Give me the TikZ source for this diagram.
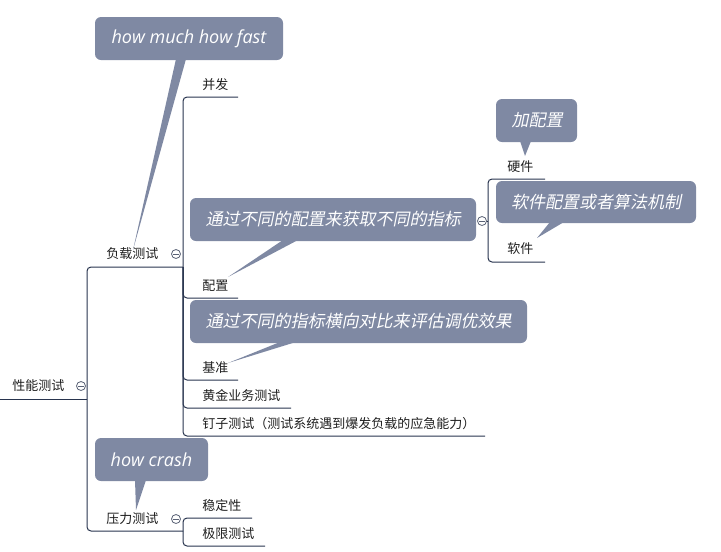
\documentclass[tikz,border=0pt]{standalone}
\usepackage{fontspec}
\setmainfont{Noto Sans CJK SC}
\newfontfamily\cjkit[FakeSlant=0.2]{Noto Sans CJK SC}
\newfontfamily\enfont{Open Sans}
\definecolor{callout}{RGB}{127,137,163}
\definecolor{linec}{RGB}{40,52,78}
\definecolor{circc}{RGB}{90,98,118}
\definecolor{txtc}{RGB}{30,30,30}
\tikzset{
  lbl/.style={anchor=west, inner sep=0pt, text=txtc, font=\fontsize{9.75pt}{11pt}\selectfont},
  conn/.style={draw=linec, line width=0.75pt, rounded corners=3pt},
  callbox/.style={fill=callout, rounded corners=4.5pt},
  callptr/.style={fill=callout},
  calltxt/.style={text=white, inner sep=0pt},
  cnfont/.style={font=\cjkit\fontsize{12.75pt}{14pt}\selectfont},
  enfontst/.style={font=\enfont\itshape\fontsize{13.5pt}{15pt}\selectfont},
  tog/.style={circle, draw=circc, fill=white, line width=0.6pt, minimum size=6.75pt, inner sep=0pt,
    path picture={\draw[circc, line width=0.6pt] ([xshift=-2pt]path picture bounding box.center) -- ([xshift=2pt]path picture bounding box.center);}},
}
\begin{document}
\begin{tikzpicture}[x=0.75pt, y=-0.75pt]
\useasboundingbox (0,0) rectangle (721,551);

% ---------- tree connectors ----------
\coordinate (r0) at (0,399);
\coordinate (r1) at (87,399);
\coordinate (ldj) at (183,267);
\coordinate (prj) at (183,531);
\coordinate (cfj) at (488,221);

\coordinate (bfE) at (238,97);
\coordinate (pzE) at (238,298);
\coordinate (jzE) at (238,380);
\coordinate (hjE) at (291,408);
\coordinate (dzE) at (485,436);
\coordinate (wdE) at (252,518);
\coordinate (jxE) at (265,546);
\coordinate (yjE) at (545,179);
\coordinate (rjE) at (545,262);

\draw[conn] (r0) -- (r1);
\draw[conn] (r1) |- (ldj);
\draw[conn] (r1) |- (prj);

\draw[conn] (ldj) |- (bfE);
\draw[conn] (ldj) |- (pzE);
\draw[conn] (ldj) |- (jzE);
\draw[conn] (ldj) |- (hjE);
\draw[conn] (ldj) |- (dzE);

\draw[conn] (prj) |- (wdE);
\draw[conn] (prj) |- (jxE);

\draw[conn] (cfj) |- (yjE);
\draw[conn] (cfj) |- (rjE);

% ---------- labels ----------
\node[lbl] (root) at (12,386) {性能测试};
\node[lbl] (load) at (106,254) {负载测试};
\node[lbl] (press) at (106,519) {压力测试};
\node[lbl] (bf) at (202,85) {并发};
\node[lbl] (pz) at (202,286) {配置};
\node[lbl] (jz) at (202,368) {基准};
\node[lbl] (hj) at (202,396) {黄金业务测试};
\node[lbl] (dz) at (202,424) {钉子测试（测试系统遇到爆发负载的应急能力）};
\node[lbl] (wd) at (202,506) {稳定性};
\node[lbl] (jx) at (202,534) {极限测试};
\node[lbl] (yj) at (507,167) {硬件};
\node[lbl] (rj) at (507,249) {软件};

% ---------- callouts ----------
% how much how fast
\fill[callptr] (176,59) -- (186,59) -- (133,250) -- cycle;
\fill[callbox] (95,17) rectangle (283,60);
\node[calltxt, enfontst] (c1) at (189,38.5) {how much how fast};

% 加配置
\fill[callptr] (520,141) -- (531,141) -- (525,156) -- cycle;
\fill[callbox] (496,99) rectangle (577,142);
\node[calltxt, cnfont] (c2) at (537,120.5) {加配置};

% 通过不同的配置来获取不同的指标
\fill[callptr] (283,240) -- (298,240) -- (228,277) -- cycle;
\fill[callbox] (190,198) rectangle (476,241);
\node[calltxt, cnfont] (c4) at (333,219.5) {通过不同的配置来获取不同的指标};

% toggle on config
\draw[conn] (482,221) -- (cfj);
\node[tog] (tcf) at (482,221) {};

% 软件配置或者算法机制
\fill[callptr] (550,222) -- (564,222) -- (537,238) -- cycle;
\fill[callbox] (496,181) rectangle (696,223);
\node[calltxt, cnfont] (c3) at (596,202) {软件配置或者算法机制};

% 通过不同的指标横向对比来评估调优效果
\fill[callptr] (280,342) -- (296,342) -- (228,363) -- cycle;
\fill[callbox] (190,300) rectangle (527,343);
\node[calltxt, cnfont] (c5) at (358.5,321.5) {通过不同的指标横向对比来评估调优效果};

% how crash
\fill[callptr] (135,480) -- (146,480) -- (136,510) -- cycle;
\fill[callbox] (95,438) rectangle (208,481);
\node[calltxt, enfontst] (c6) at (151.5,459.5) {how crash};

% ---------- toggles ----------
\node[tog] (troot) at (81,386) {};
\node[tog] (tload) at (176,254) {};
\node[tog] (tpress) at (176,519) {};
\end{tikzpicture}
\end{document}
